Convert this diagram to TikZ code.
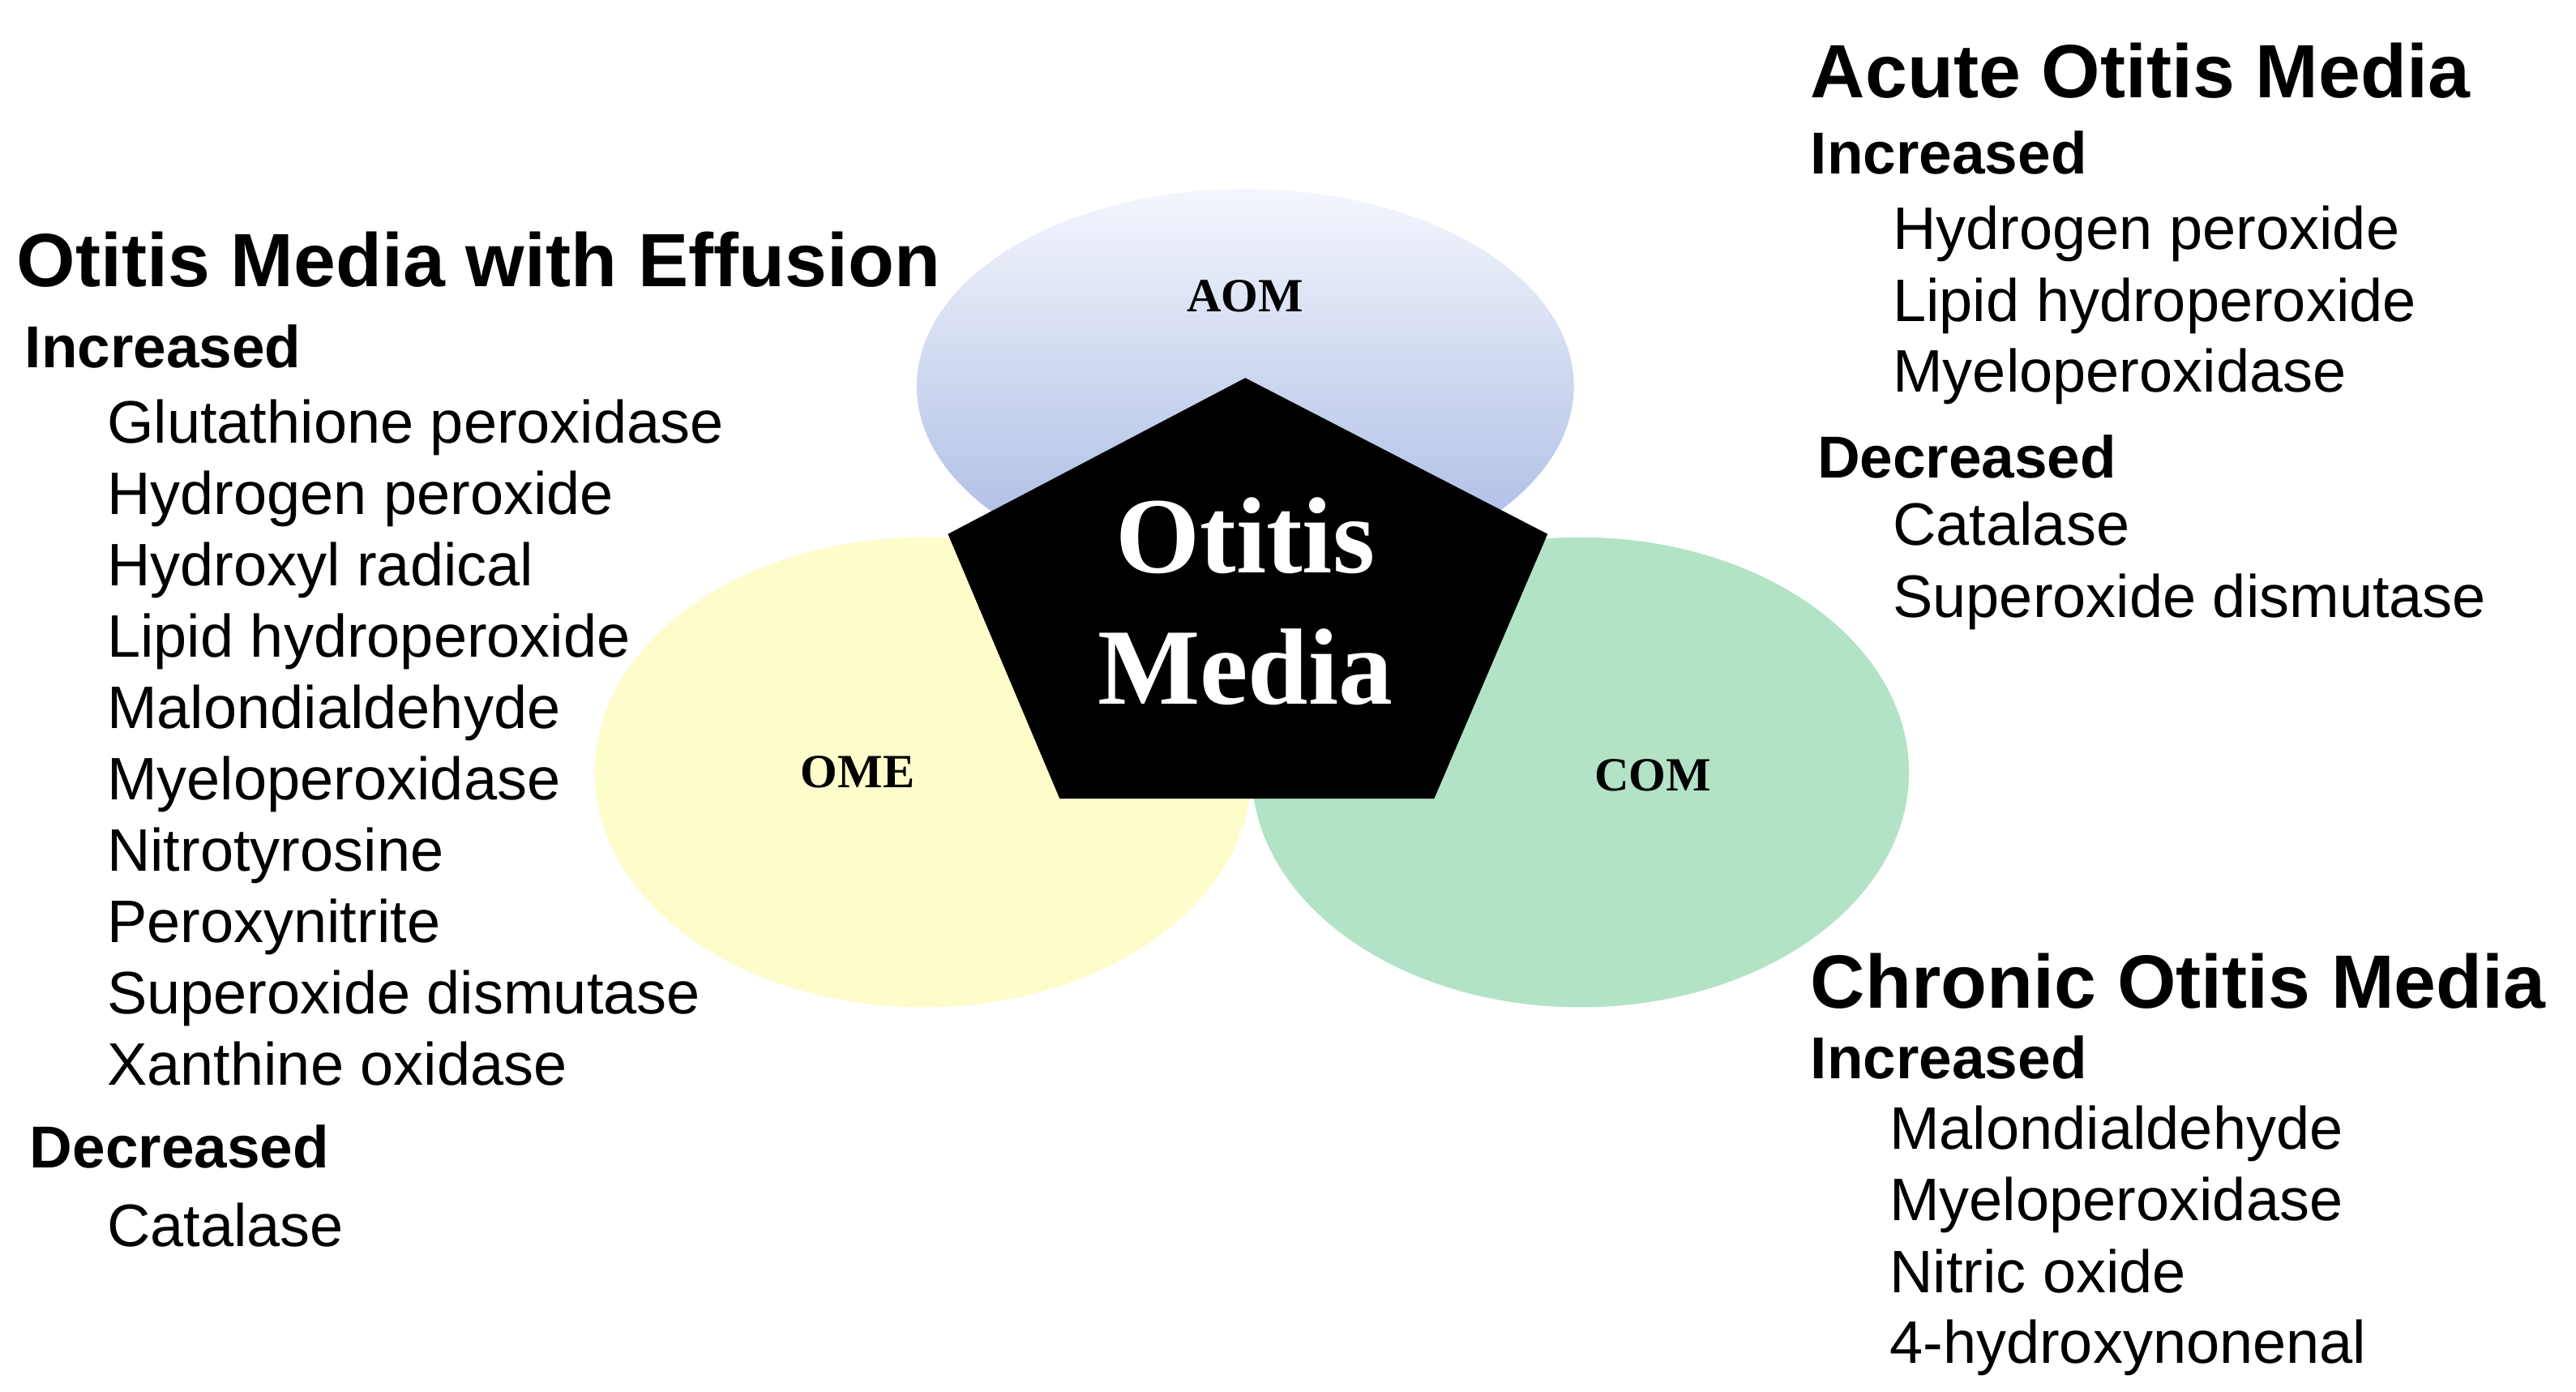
\documentclass[tikz,border=0pt]{standalone}
\usepackage{fontspec}
\setmainfont{Liberation Sans}
\newfontfamily\serifb{Liberation Serif}
\usetikzlibrary{shadings}
\definecolor{omefill}{HTML}{FDFCCB}
\definecolor{comfill}{HTML}{B3E3C6}
\definecolor{aomtop}{HTML}{F4F6FC}
\definecolor{aombot}{HTML}{A4B6E2}
\begin{document}
\begin{tikzpicture}[x=1pt,y=-1pt,
  base/.style={anchor=west,inner sep=0pt,text height=0.72em,text depth=0pt},
  ttl/.style={base,font=\fontsize{46}{50}\selectfont\bfseries,yshift=-16pt},
  hd/.style={base,font=\fontsize{36}{40}\selectfont\bfseries,yshift=-12pt},
  it/.style={base,font=\fontsize{36.5}{40}\selectfont,yshift=-12pt},
  lab/.style={font=\fontsize{29}{31}\selectfont\serifb\bfseries}]
\useasboundingbox (0,0) rectangle (1568,847);
\shade[top color=aomtop,bottom color=aombot] (758,235) ellipse [x radius=200,y radius=120];
\fill[omefill] (562,470) ellipse [x radius=200,y radius=143];
\fill[comfill] (962,470) ellipse [x radius=200,y radius=143];
\fill[black] (758,230) -- (942,325) -- (873,486) -- (645,486) -- (577,325) -- cycle;
\node[lab] (aom) at (758,180) {AOM};
\node[lab] (ome) at (522,470) {OME};
\node[lab] (com) at (1006,472) {COM};
\node[text=white,align=center,font=\fontsize{66}{80}\selectfont\serifb\bfseries] (om) at (758,366) {Otitis\\Media};
% left
\node[ttl] (t1) at (10,155) {Otitis Media with Effusion};
\node[hd] (h1) at (15,208) {Increased};
\foreach \t [count=\i from 0] in {Glutathione peroxidase,Hydrogen peroxide,Hydroxyl radical,Lipid hydroperoxide,Malondialdehyde,Myeloperoxidase,Nitrotyrosine,Peroxynitrite,Superoxide dismutase,Xanthine oxidase}
  \node[it] (l\i) at (65,{254+43.4*\i}) {\t};
\node[hd] (d1) at (18,695) {Decreased};
\node[it] (lc) at (65,743) {Catalase};
% right top
\node[ttl] (t2) at (1102,40) {Acute Otitis Media};
\node[hd] (h2) at (1102,90) {Increased};
\node[it] (a1) at (1152,136) {Hydrogen peroxide};
\node[it] (a2) at (1152,180) {Lipid hydroperoxide};
\node[it] (a3) at (1152,223) {Myeloperoxidase};
\node[hd] (d2) at (1106,275) {Decreased};
\node[it] (a4) at (1152,316) {Catalase};
\node[it] (a5) at (1152,360) {Superoxide dismutase};
% right bottom
\node[ttl] (t3) at (1102,594) {Chronic Otitis Media};
\node[hd] (h3) at (1102,641) {Increased};
\node[it] (c1) at (1150,684) {Malondialdehyde};
\node[it] (c2) at (1150,727) {Myeloperoxidase};
\node[it] (c3) at (1150,771) {Nitric oxide};
\node[it] (c4) at (1150,814) {4-hydroxynonenal};
\end{tikzpicture}
\end{document}
